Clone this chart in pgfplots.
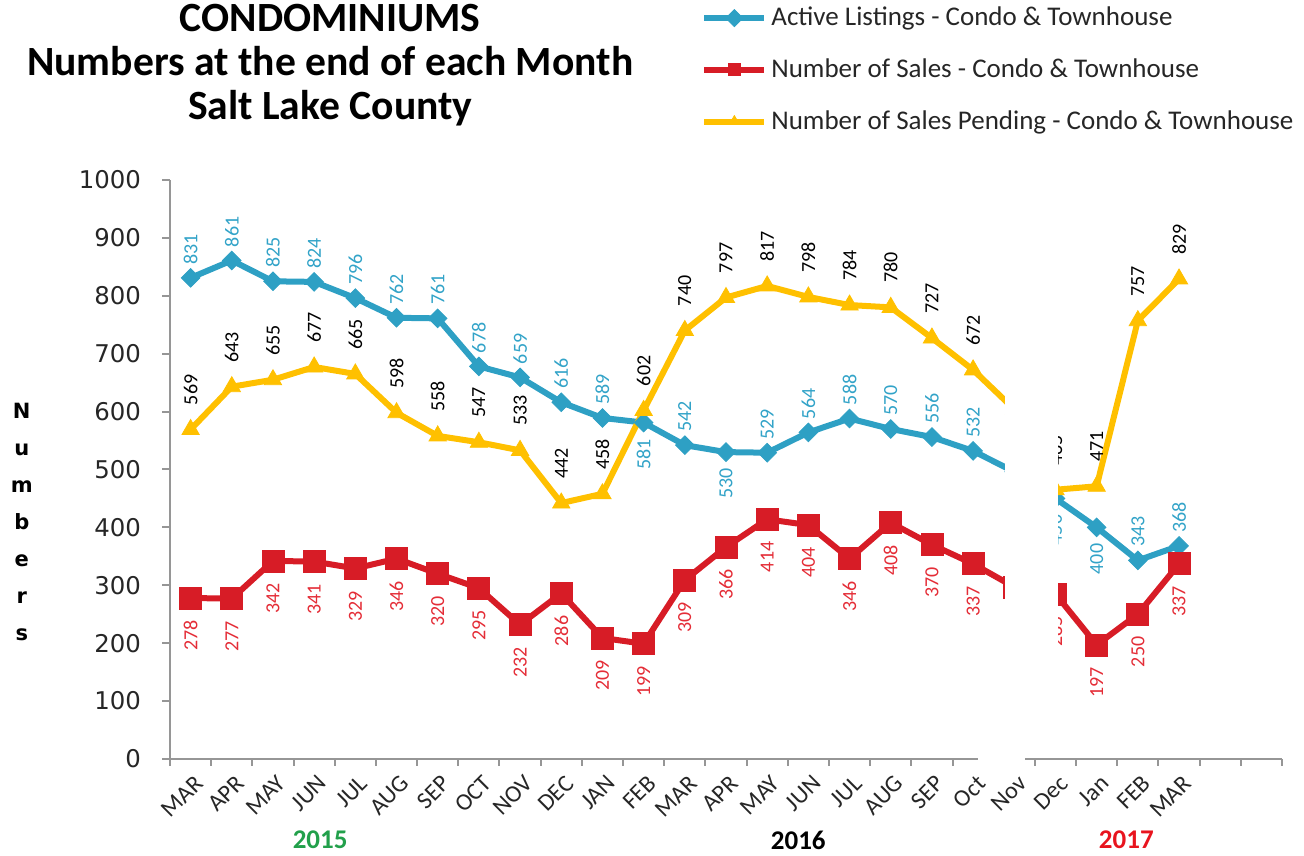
\documentclass[border=0pt]{standalone}
\usepackage{pgfplots}
\pgfplotsset{compat=1.18}
\usepackage{pgfplotstable}
\usepackage{fontspec}
\setmainfont{Carlito}
\newfontfamily\dejavu{DejaVu Sans}
\definecolor{cblue}{RGB}{46,160,196}
\definecolor{cred}{RGB}{215,28,38}
\definecolor{cyel}{RGB}{255,192,0}
\definecolor{lblue}{RGB}{50,163,200}
\definecolor{lred}{RGB}{228,45,55}
\definecolor{axgray}{RGB}{150,150,150}
\definecolor{ygreen}{RGB}{34,160,75}
\definecolor{yred}{RGB}{232,20,30}

\pgfplotstableread{
x active sales pending
0 831 278 569
1 861 277 643
2 825 342 655
3 824 341 677
4 796 329 665
5 762 346 598
6 761 320 558
7 678 295 547
8 659 232 533
9 616 286 442
10 589 209 458
11 581 199 602
12 542 309 740
13 530 366 797
14 529 414 817
15 564 404 798
16 588 346 784
17 570 408 780
18 556 370 727
19 532 337 672
20 496 297 604
21 450 285 465
22 400 197 471
23 343 250 757
24 368 337 829
}\data

\begin{document}
\begin{tikzpicture}
\begin{axis}[
  set layers,
  scale only axis,
  width=556pt, height=289.5pt,
  xmin=-0.5, xmax=26.5, ymin=0, ymax=1000,
  axis x line*=bottom, axis y line*=left,
  axis line style={axgray, line width=1pt},
  clip=false,
  xtick={0,...,24},
  xticklabels={MAR,APR,MAY,JUN,JUL,AUG,SEP,OCT,NOV,DEC,JAN,FEB,MAR,APR,MAY,JUN,JUL,AUG,SEP,Oct,Nov,Dec,Jan,FEB,MAR},
  minor xtick={-0.5,0.5,...,26.5},
  major x tick style={draw=none},
  minor x tick style={axgray, line width=1pt},
  minor tick length=3.5pt,
  ytick={0,100,...,1000},
  ytick style={axgray, line width=1pt},
  major tick length=4pt,
  tick align=outside,
  /pgf/number format/assume math mode=true,
  /pgf/number format/1000 sep={},
  yticklabel style={font=\dejavu\fontsize{12.2}{14}\selectfont, text=black!85, xshift=-7pt},
  xticklabel style={font=\fontsize{12}{14}\selectfont, rotate=45, anchor=north east, text=black!85, xshift=2pt},
  legend cell align=left,
  legend style={at={(axis description cs:0.4775,1.306)}, anchor=north west, draw=none, fill=none,
    font=\fontsize{13.5}{15}\selectfont, text=black!85, row sep=11pt, inner sep=0pt},
  legend image code/.code={\draw[mark repeat=2,mark phase=2,#1, mark size=3pt] plot coordinates {(0pt,0pt) (15pt,0pt) (30pt,0pt)};},
]
\addplot[cblue, line width=3pt, mark=square*, mark size=3.3pt,
  mark options={rotate=45, solid, line width=0.4pt, fill=cblue}]
  table[x=x, y=active]{\data};
\addlegendentry{Active Listings - Condo \& Townhouse}
\addplot[cred, line width=3pt, mark=square*, mark size=5.5pt,
  mark options={solid, line width=0.4pt, fill=cred},
  nodes near coords,
  every node near coord/.append style={rotate=90, anchor=east, inner xsep=11pt, inner ysep=0pt, text=lred, font=\fontsize{10}{12}\selectfont}]
  table[x=x, y=sales]{\data};
\addlegendentry{Number of Sales - Condo \& Townhouse}
\addplot[cyel, line width=3pt, mark=triangle*, mark size=5pt,
  mark options={solid, line width=0.4pt, fill=cyel},
  nodes near coords,
  every node near coord/.append style={rotate=90, anchor=west, inner xsep=12pt, inner ysep=0pt, text=black, font=\fontsize{10}{12}\selectfont}]
  table[x=x, y=pending]{\data};
\addlegendentry{Number of Sales Pending - Condo \& Townhouse}
% labels of the active listings: above
\addplot[forget plot, only marks, mark=text, text mark={},
  nodes near coords,
  every node near coord/.append style={rotate=90, anchor=west, inner xsep=6.5pt, inner ysep=0pt, text=lblue, font=\fontsize{10}{12}\selectfont}]
  coordinates {(0,831) (1,861) (2,825) (3,824) (4,796) (5,762) (6,761) (7,678) (8,659) (9,616) (10,589)
   (12,542) (14,529) (15,564) (16,588) (17,570) (18,556) (19,532) (20,496) (23,343) (24,368)};
% labels of the active listings: below
\addplot[forget plot, only marks, mark=text, text mark={},
  nodes near coords,
  every node near coord/.append style={rotate=90, anchor=east, inner xsep=8pt, inner ysep=0pt, text=lblue, font=\fontsize{10}{12}\selectfont}]
  coordinates {(11,581) (13,530) (21,450) (22,400)};

\begin{pgfonlayer}{axis foreground}
\fill[white] (axis cs:19.77,15) rectangle (axis cs:21.06,1010);
\fill[white] (axis cs:19.13,-12) rectangle (axis cs:20.25,6);
\end{pgfonlayer}

\node[font=\bfseries\fontsize{20.8}{22}\selectfont, align=center] at (rel axis cs:0.1441,1.1986)
  {CONDOMINIUMS\\Numbers at the end of each Month\\Salt Lake County};
\node[font=\dejavu\bfseries\fontsize{10.5}{18.5}\selectfont, align=center] at (rel axis cs:-0.1333,0.409)
  {N\\u\\m\\b\\e\\r\\s};
\node[font=\bfseries\fontsize{13.5}{16}\selectfont, text=ygreen] at (rel axis cs:0.135,-0.140) {2015};
\node[font=\bfseries\fontsize{13.5}{16}\selectfont, text=black] at (rel axis cs:0.565,-0.140) {2016};
\node[font=\bfseries\fontsize{13.5}{16}\selectfont, text=yred] at (rel axis cs:0.860,-0.140) {2017};

\coordinate (BL) at (rel axis cs:-0.1529,-0.1675);
\coordinate (TR) at (rel axis cs:1.0198,1.3109);
\end{axis}
\pgfresetboundingbox
\path[use as bounding box] (BL) rectangle (TR);
\end{tikzpicture}
\end{document}
